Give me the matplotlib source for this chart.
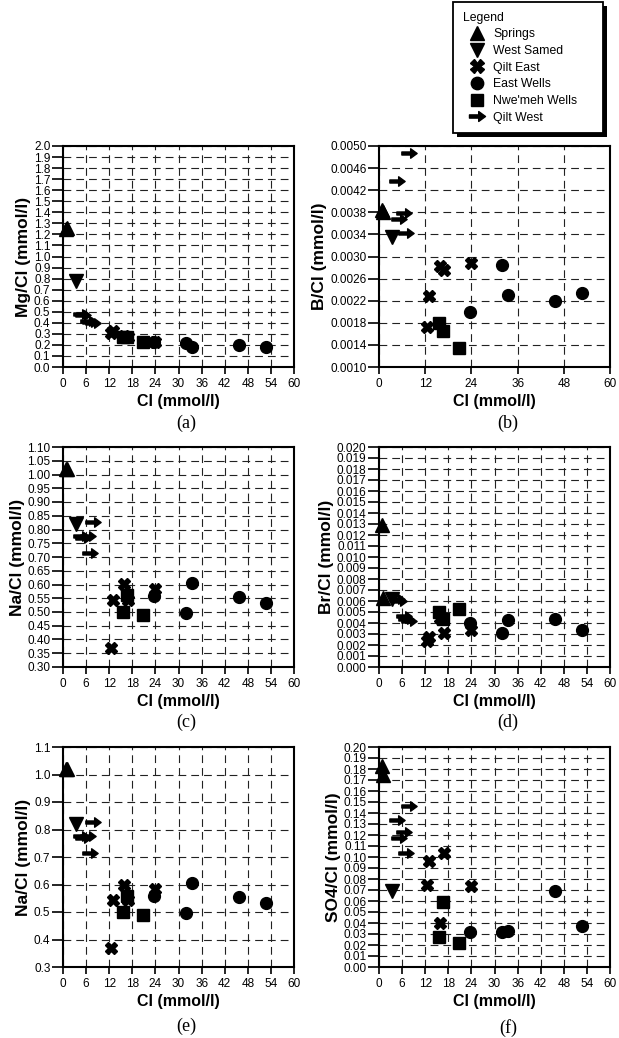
import numpy as np
import matplotlib
matplotlib.use('Agg')
from matplotlib import pyplot as plt
from matplotlib.path import Path
from matplotlib.patches import Rectangle
from matplotlib.ticker import FormatStrFormatter

plt.rcParams['font.family'] = ['Liberation Sans', 'DejaVu Sans']

# Cl (mmol/l) for every group
cl_springs = [0.9, 1.1]
cl_west_samed = [3.3]
cl_qilt_east = [12.5, 13.0, 15.8, 16.8, 24.0]
cl_east_wells = [23.7, 32.0, 33.4, 45.7, 52.7]
cl_nwemeh = [15.5, 16.5, 20.8]
cl_qilt_west = [7.8, 4.6, 6.6, 5.3, 6.9]

# Mg/Cl
mg_springs = [1.25, 1.26]
mg_west_samed = [0.78]
mg_qilt_east = [0.31, 0.33, 0.28, 0.27, 0.23]
mg_east_wells = [0.225, 0.22, 0.18, 0.20, 0.185]
mg_nwemeh = [0.27, 0.27, 0.23]
mg_qilt_west = [0.40, 0.48, 0.42, 0.47, 0.41]

# B/Cl
b_springs = [0.00385, 0.0038]
b_west_samed = [0.00335]
b_qilt_east = [0.00172, 0.00229, 0.00282, 0.00276, 0.00289]
b_east_wells = [0.00199, 0.00285, 0.0023, 0.0022, 0.00234]
b_nwemeh = [0.00179, 0.00166, 0.00134]
b_qilt_west = [0.00487, 0.00437, 0.00379, 0.00367, 0.00342]

# Na/Cl
na_springs = [1.02, 1.02]
na_west_samed = [0.82]
na_qilt_east = [0.37, 0.545, 0.60, 0.545, 0.585]
na_east_wells = [0.559, 0.498, 0.607, 0.554, 0.532]
na_nwemeh = [0.50, 0.56, 0.49]
na_qilt_west = [0.828, 0.778, 0.776, 0.768, 0.713]

# Br/Cl
br_springs = [0.0129, 0.0063]
br_west_samed = [0.0062]
br_qilt_east = [0.0024, 0.0027, 0.0045, 0.0031, 0.0034]
br_east_wells = [0.0040, 0.0031, 0.0043, 0.0044, 0.0034]
br_nwemeh = [0.0050, 0.0044, 0.0053]
br_qilt_west = [0.0042, 0.0062, 0.0046, 0.0060, 0.0044]

# SO4/Cl
so4_springs = [0.183, 0.175]
so4_west_samed = [0.069]
so4_qilt_east = [0.075, 0.096, 0.040, 0.104, 0.074]
so4_east_wells = [0.032, 0.0316, 0.033, 0.069, 0.037]
so4_nwemeh = [0.027, 0.059, 0.0217]
so4_qilt_west = [0.1465, 0.1335, 0.123, 0.117, 0.104]

group_names = ['Springs', 'West Samed', 'Qilt East', 'East Wells', "Nwe'meh Wells", 'Qilt West']
cl_groups = [cl_springs, cl_west_samed, cl_qilt_east, cl_east_wells, cl_nwemeh, cl_qilt_west]

# bold arrow marker
arrow = Path([(-1.0, -0.2), (0.15, -0.2), (0.15, -0.62), (1.0, 0.0), (0.15, 0.62),
              (0.15, 0.2), (-1.0, 0.2), (-1.0, -0.2)],
             [Path.MOVETO] + [Path.LINETO] * 6 + [Path.CLOSEPOLY])
markers = ['^', 'v', 'X', 'o', 's', arrow]
sizes = [10, 10, 9, 8.5, 8.3, 11]

fig = plt.figure(figsize=(6.19, 10.38), dpi=100)
W, H = 619, 1038


def make_axes(x0, y0, x1, y1):
    return fig.add_axes([x0 / W, 1 - y1 / H, (x1 - x0) / W, (y1 - y0) / H])


def draw_panel(ax, ys, ylabel, ylim, ystep, yfmt, xstep, caption, cap_x, cap_y):
    for i in range(len(group_names)):
        ax.plot(cl_groups[i], ys[i], linestyle='none', marker=markers[i],
                markersize=sizes[i], color='black', clip_on=False, zorder=5)
    ax.set_xlim(0, 60)
    ax.set_ylim(*ylim)
    ax.set_xticks(np.arange(0, 60 + xstep / 2, xstep))
    ax.set_yticks(np.arange(ylim[0], ylim[1] + ystep / 2, ystep))
    ax.yaxis.set_major_formatter(FormatStrFormatter(yfmt))
    ax.grid(True, color='#222222', linestyle=(0, (7, 4.5)), linewidth=0.8)
    ax.set_axisbelow(True)
    ax.tick_params(axis='x', direction='out', length=5, width=1.2, labelsize=8.5, pad=3)
    ax.tick_params(axis='y', direction='out', length=8, width=1.2, labelsize=8.5, pad=1)
    for s in ax.spines.values():
        s.set_linewidth(1.5)
    ax.set_xlabel('Cl (mmol/l)', fontsize=11.5, fontweight='bold', labelpad=3)
    ax.set_ylabel(ylabel, fontsize=12.5, fontweight='bold', labelpad=2)
    fig.text(cap_x / W, 1 - cap_y / H, caption, ha='center', va='center',
             fontsize=13, family=['Liberation Serif', 'DejaVu Serif'])


ax_a = make_axes(63, 146, 294, 367)
draw_panel(ax_a, [mg_springs, mg_west_samed, mg_qilt_east, mg_east_wells, mg_nwemeh, mg_qilt_west],
           'Mg/Cl (mmol/l)', (0, 2.0), 0.1, '%.1f', 6, '(a)', 186, 423)

ax_b = make_axes(379, 146, 610, 367)
draw_panel(ax_b, [b_springs, b_west_samed, b_qilt_east, b_east_wells, b_nwemeh, b_qilt_west],
           'B/Cl (mmol/l)', (0.0010, 0.0050), 0.0004, '%.4f', 12, '(b)', 508, 423)

ax_c = make_axes(63, 447, 294, 667)
draw_panel(ax_c, [na_springs, na_west_samed, na_qilt_east, na_east_wells, na_nwemeh, na_qilt_west],
           'Na/Cl (mmol/l)', (0.30, 1.10), 0.05, '%.2f', 6, '(c)', 186, 722)

ax_d = make_axes(379, 447, 610, 667)
draw_panel(ax_d, [br_springs, br_west_samed, br_qilt_east, br_east_wells, br_nwemeh, br_qilt_west],
           'Br/Cl (mmol/l)', (0.0, 0.020), 0.001, '%.3f', 6, '(d)', 508, 722)

ax_e = make_axes(63, 747, 294, 967)
draw_panel(ax_e, [na_springs, na_west_samed, na_qilt_east, na_east_wells, na_nwemeh, na_qilt_west],
           'Na/Cl (mmol/l)', (0.3, 1.1), 0.1, '%.1f', 6, '(e)', 186, 1026)

ax_f = make_axes(379, 747, 610, 967)
draw_panel(ax_f, [so4_springs, so4_west_samed, so4_qilt_east, so4_east_wells, so4_nwemeh, so4_qilt_west],
           'SO4/Cl (mmol/l)', (0.0, 0.20), 0.01, '%.2f', 6, '(f)', 508, 1028)

handles = [plt.Line2D([], [], linestyle='none', marker=markers[i], markersize=sizes[i] * 1.05,
                      color='black') for i in range(len(group_names))]
leg = fig.legend(handles, group_names, loc='upper left', mode='expand',
                 bbox_to_anchor=(453 / W, 1 - 134 / H, 150 / W, 132 / H),
                 title='Legend', alignment='left', fontsize=8.8, title_fontsize=8.8,
                 frameon=True, fancybox=False, shadow=False, framealpha=1,
                 edgecolor='black', handletextpad=0.2, labelspacing=0.38, borderpad=0.8,
                 handlelength=2.3, borderaxespad=0)
leg.get_frame().set_linewidth(1.3)
leg.set_zorder(10)

# drop shadow behind the legend box
fig.canvas.draw()
bb = leg.get_window_extent()
fig.patches.append(Rectangle((bb.x0 + 4, bb.y0 - 4), bb.width, bb.height, transform=None,
                             facecolor='black', edgecolor='none', zorder=9))

plt.savefig('out.png', dpi=100)
